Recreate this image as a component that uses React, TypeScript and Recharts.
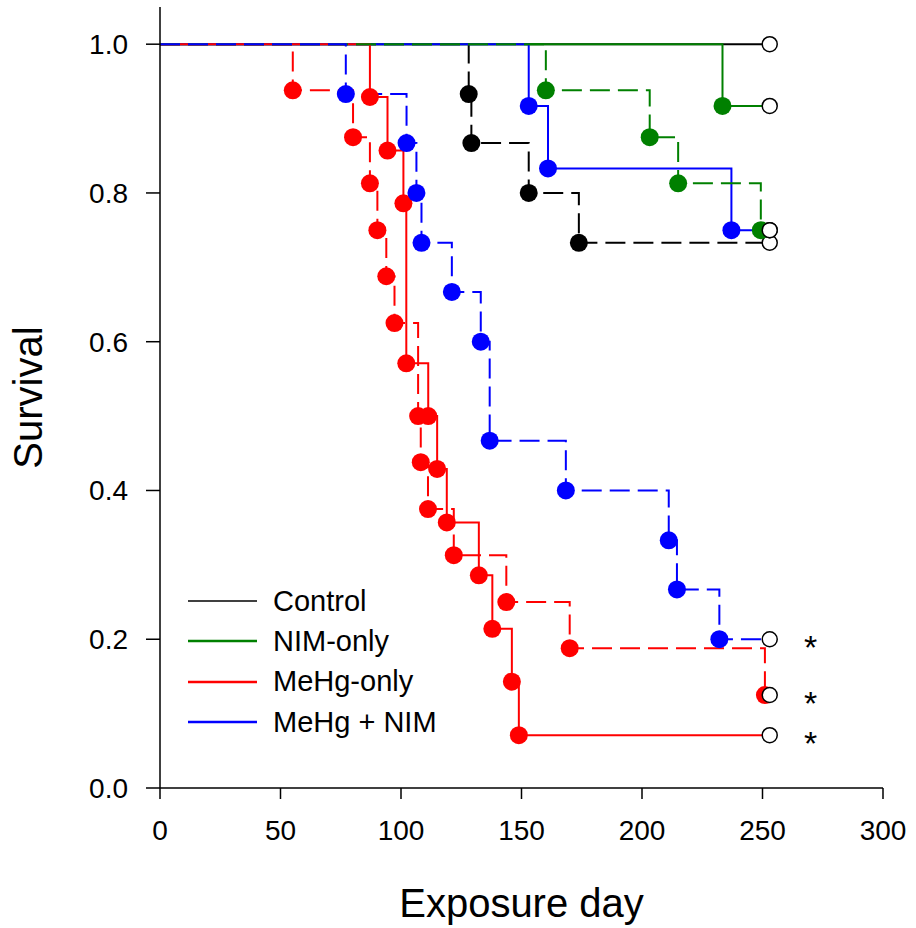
import { ComposedChart, Legend, Line, Scatter, XAxis, YAxis } from "recharts";

// last day of follow-up, where every curve is censored (open circles)
const END_DAY = 253;

// day of each death and the survival fraction right after it
const controlSolidDays: number[] = [];
const controlSolidSurv: number[] = [];
const controlDashDays = [128.1, 129.2, 153.0, 173.8];
const controlDashSurv = [0.933, 0.867, 0.8, 0.733];

const nimSolidDays = [233.4];
const nimSolidSurv = [0.917];
const nimDashDays = [160.1, 203.2, 215.0, 249.3];
const nimDashSurv = [0.938, 0.875, 0.813, 0.75];

const mehgSolidDays = [87.1, 94.4, 101.0, 102.2, 111.3, 115.0, 119.0, 132.3, 137.9, 146.0, 148.9];
const mehgSolidSurv = [0.929, 0.857, 0.786, 0.571, 0.5, 0.429, 0.357, 0.286, 0.214, 0.143, 0.071];
const mehgDashDays = [55.1, 80.1, 87.1, 90.2, 93.9, 97.3, 107.1, 108.2, 111.2, 121.9, 143.7, 170.0, 251.0];
const mehgDashSurv = [0.938, 0.875, 0.813, 0.75, 0.688, 0.625, 0.5, 0.438, 0.375, 0.313, 0.25, 0.188, 0.125];

const comboSolidDays = [153.0, 161.0, 237.1];
const comboSolidSurv = [0.917, 0.833, 0.75];
const comboDashDays = [77.1, 102.3, 106.4, 108.5, 121.1, 133.1, 136.8, 168.4, 211.1, 214.5, 232.1];
const comboDashSurv = [0.933, 0.867, 0.8, 0.733, 0.667, 0.6, 0.467, 0.4, 0.333, 0.267, 0.2];

// significance marks to the right of the curves
const starDays = [270, 270, 270];
const starSurv = [0.2, 0.125, 0.071];

const xTicks = [0, 50, 100, 150, 200, 250, 300];
const yTicks = [0, 0.2, 0.4, 0.6, 0.8, 1.0];

const legendNames = ["Control", "NIM-only", "MeHg-only", "MeHg + NIM"];
const legendColors = ["#000000", "#008000", "#FF0000", "#0000FF"];

const FONT = "'Liberation Sans', Arial, sans-serif";

type KmPoint = { t: number; s: number; kind: "start" | "death" | "censor" };

function kmCurve(days: number[], surv: number[]): KmPoint[] {
  const pts: KmPoint[] = [{ t: 0, s: 1, kind: "start" }];
  days.forEach((d, i) => pts.push({ t: d, s: surv[i], kind: "death" }));
  const last = surv.length ? surv[surv.length - 1] : 1;
  pts.push({ t: END_DAY, s: last, kind: "censor" });
  return pts;
}

function kmDot(color: string) {
  return (props: any) => {
    const { cx, cy, payload, index } = props;
    const key = `dot-${index}`;
    if (payload.kind === "start") return <g key={key} />;
    if (payload.kind === "censor")
      return <circle key={key} cx={cx} cy={cy} r={7.5} fill="#fff" stroke="#000" strokeWidth={1.5} />;
    return <circle key={key} cx={cx} cy={cy} r={9} fill={color} />;
  };
}

// bottom to top, as the overlaps in the figure show
const series = [
  { id: "ctrl-s", days: controlSolidDays, surv: controlSolidSurv, color: "#000000", dashed: false },
  { id: "ctrl-d", days: controlDashDays, surv: controlDashSurv, color: "#000000", dashed: true },
  { id: "nim-s", days: nimSolidDays, surv: nimSolidSurv, color: "#008000", dashed: false },
  { id: "combo-s", days: comboSolidDays, surv: comboSolidSurv, color: "#0000FF", dashed: false },
  { id: "mehg-s", days: mehgSolidDays, surv: mehgSolidSurv, color: "#FF0000", dashed: false },
  { id: "mehg-d", days: mehgDashDays, surv: mehgDashSurv, color: "#FF0000", dashed: true },
  { id: "nim-d", days: nimDashDays, surv: nimDashSurv, color: "#008000", dashed: true },
  { id: "combo-d", days: comboDashDays, surv: comboDashSurv, color: "#0000FF", dashed: true },
];

const stars = starDays.map((t, i) => ({ t, s: starSurv[i] }));

function LegendBox() {
  return (
    <div style={{ fontFamily: FONT, fontSize: 29, color: "#000" }}>
      {legendNames.map((name, i) => (
        <div key={name} style={{ display: "flex", alignItems: "center", height: 40.3 }}>
          <svg width={69} height={4} style={{ display: "block" }}>
            <line x1={0} x2={69} y1={2} y2={2} stroke={legendColors[i]} strokeWidth={i === 0 ? 1.5 : 2.5} />
          </svg>
          <span style={{ marginLeft: 16, lineHeight: 1 }}>{name}</span>
        </div>
      ))}
    </div>
  );
}

export default function App() {
  return (
    <div style={{ position: "absolute", left: 0, top: 0, background: "#fff" }}>
      <ComposedChart width={916} height={928} margin={{ top: 7, right: 33, left: 0, bottom: 0 }}>
        <XAxis
          dataKey="t"
          type="number"
          domain={[0, 300]}
          ticks={xTicks}
          tickSize={11}
          tickMargin={21}
          height={140}
          axisLine={{ stroke: "#000", strokeWidth: 1.5 }}
          tickLine={{ stroke: "#000", strokeWidth: 1.5 }}
          tick={{ fill: "#000", fontSize: 28, fontFamily: FONT }}
          label={{
            value: "Exposure day",
            position: "insideBottom",
            offset: 11,
            style: { fill: "#000", fontSize: 40, fontFamily: FONT },
          }}
        />
        <YAxis
          dataKey="s"
          type="number"
          domain={[0, 1.05]}
          ticks={yTicks}
          tickFormatter={(v: number) => v.toFixed(1)}
          width={160}
          tickSize={14}
          tickMargin={18}
          axisLine={{ stroke: "#000", strokeWidth: 1.5 }}
          tickLine={{ stroke: "#000", strokeWidth: 1.5 }}
          tick={{ fill: "#000", fontSize: 28, fontFamily: FONT }}
          label={{
            value: "Survival",
            angle: -90,
            position: "insideLeft",
            offset: 28,
            style: { fill: "#000", fontSize: 40, fontFamily: FONT, textAnchor: "middle" },
          }}
        />
        {series.map((sr) => (
          <Line
            key={sr.id}
            data={kmCurve(sr.days, sr.surv)}
            dataKey="s"
            type="stepAfter"
            stroke={sr.color}
            strokeWidth={2}
            strokeDasharray={sr.dashed ? "20 8" : undefined}
            dot={kmDot(sr.color)}
            activeDot={false}
            legendType="none"
            isAnimationActive={false}
          />
        ))}
        <Scatter
          data={stars}
          dataKey="s"
          legendType="none"
          isAnimationActive={false}
          shape={(p: any) => (
            <text x={p.cx} y={p.cy + 20} textAnchor="middle" fontSize={34} fontFamily={FONT} fill="#000">
              *
            </text>
          )}
        />
        <Legend
          layout="vertical"
          align="center"
          verticalAlign="middle"
          content={() => <LegendBox />}
          wrapperStyle={{ position: "absolute", left: 188, top: 581, bottom: "auto", width: 300 }}
        />
      </ComposedChart>
    </div>
  );
}
